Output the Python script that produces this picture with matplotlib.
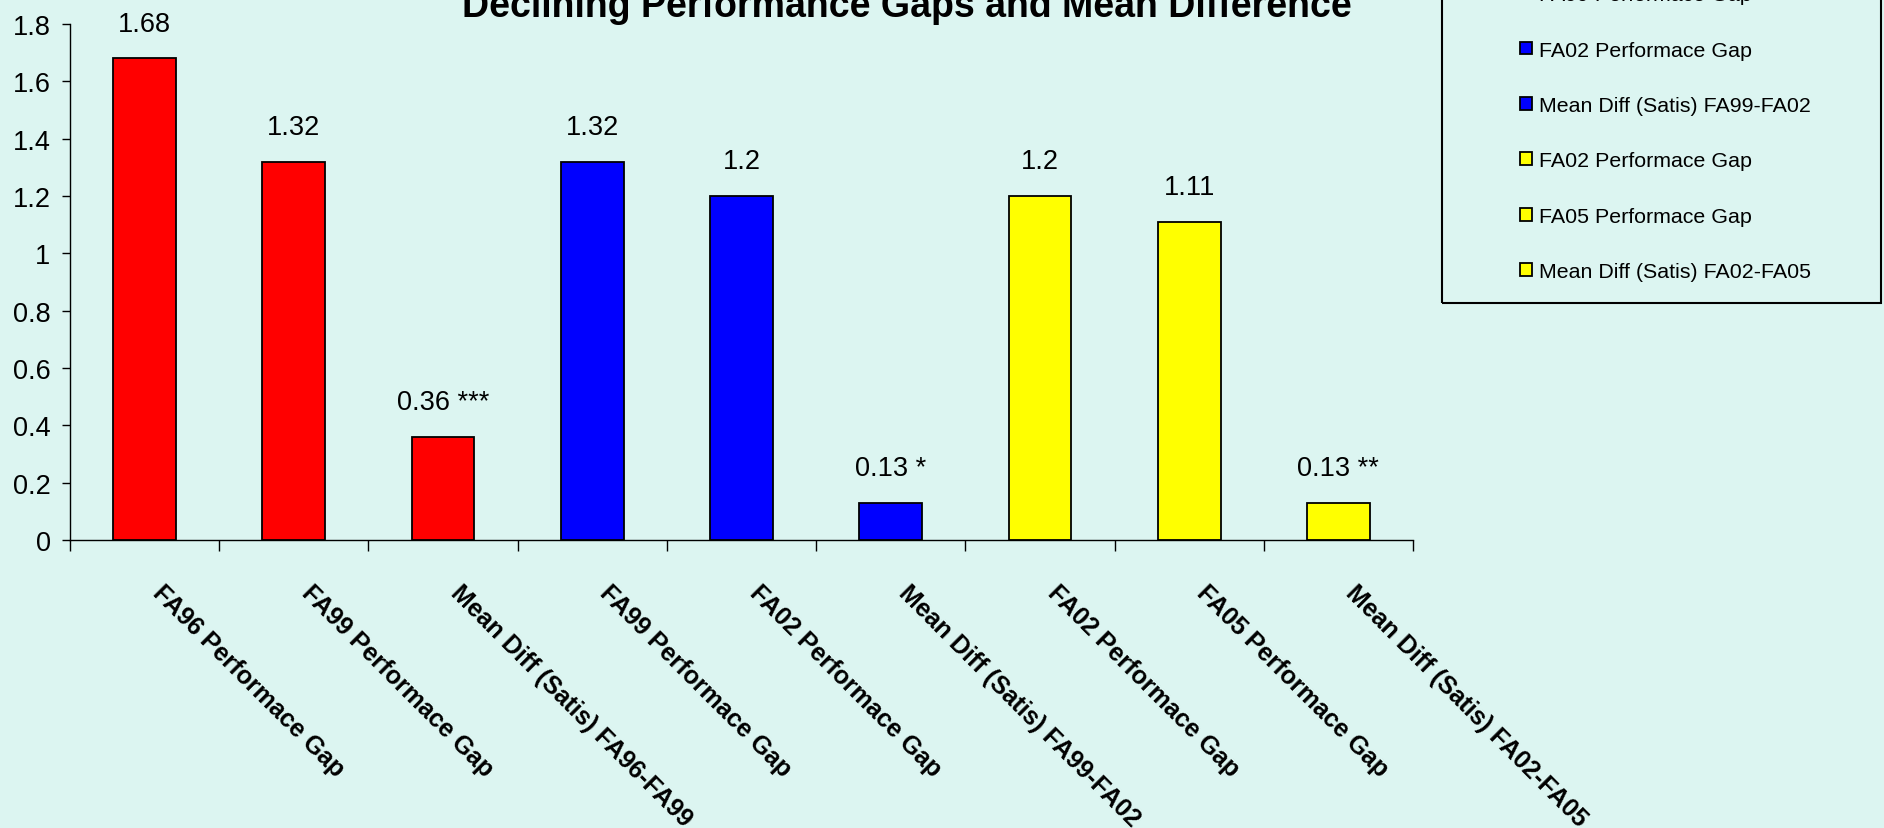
import matplotlib
matplotlib.use("Agg")
import matplotlib.pyplot as plt
from matplotlib.patches import Rectangle
from matplotlib.transforms import ScaledTranslation

categories = ["FA96 Performace Gap", "FA99 Performace Gap", "Mean Diff (Satis) FA96-FA99",
              "FA99 Performace Gap", "FA02 Performace Gap", "Mean Diff (Satis) FA99-FA02",
              "FA02 Performace Gap", "FA05 Performace Gap", "Mean Diff (Satis) FA02-FA05"]
values = [1.68, 1.32, 0.36, 1.32, 1.2, 0.13, 1.2, 1.11, 0.13]
stars = ["", "", "***", "", "", "*", "", "", "**"]
colors = ["#FF0000", "#FF0000", "#FF0000", "#0000FF", "#0000FF", "#0000FF",
          "#FFFF00", "#FFFF00", "#FFFF00"]
yticks = [0, 0.2, 0.4, 0.6, 0.8, 1, 1.2, 1.4, 1.6, 1.8]
ytick_labels = ["0", "0.2", "0.4", "0.6", "0.8", "1", "1.2", "1.4", "1.6", "1.8"]
title = "Declining Performance Gaps and Mean Difference"

bg = "#DCF5F1"
plt.rcParams['font.family'] = ['Liberation Sans', 'DejaVu Sans']

W, H = 1884, 829
fig = plt.figure(figsize=(W / 100, H / 100), dpi=100, facecolor=bg)
ax = fig.add_axes([70 / W, 1 - 541 / H, (1413 - 70) / W, (541 - 25) / H])
ax.set_facecolor(bg)

bars = []
for i, (v, c, lab) in enumerate(zip(values, colors, categories)):
    b = ax.bar(i, v, width=0.42, color=c, edgecolor="black", linewidth=1.3, label=lab, zorder=3)
    bars.append(b)

for i, (v, s) in enumerate(zip(values, stars)):
    txt = f"{v:g}" + (f" {s}" if s else "")
    ax.annotate(txt, (i, v), xytext=(0, 20), textcoords="offset points",
                ha="center", va="baseline", fontsize=19.5)

ax.set_xlim(-0.5, len(values) - 0.5)
ax.set_ylim(0, 1.8)
ax.set_yticks(yticks)
ax.set_yticklabels(ytick_labels, fontsize=19.5)
ax.tick_params(axis="y", length=6, width=1, pad=8, color="black")

ax.set_xticks(range(len(categories)))
ax.set_xticklabels(categories, rotation=-45, ha="left", va="top",
                   rotation_mode="anchor", fontsize=18, fontweight="bold")
ax.tick_params(axis="x", which="major", length=0, pad=29)
ax.set_xticks([k - 0.5 for k in range(len(categories) + 1)], minor=True)
ax.tick_params(axis="x", which="minor", length=8, width=1, color="black")
offset = ScaledTranslation(20 / 100, 0, fig.dpi_scale_trans)
for lbl in ax.get_xticklabels():
    lbl.set_transform(lbl.get_transform() + offset)

for side in ["top", "right"]:
    ax.spines[side].set_visible(False)
for side in ["left", "bottom"]:
    ax.spines[side].set_linewidth(1)
    ax.spines[side].set_color("black")

fig.text(907 / W, 1 - 17 / H, title, ha="center", va="baseline",
         fontsize=27, fontweight="bold")

# legend frame
fig.patches.append(Rectangle((1442 / W, 1 - 304 / H), (1881 - 1442) / W, 1.0,
                             transform=fig.transFigure, facecolor="none",
                             edgecolor="black", linewidth=1.5, zorder=5))
leg = ax.legend(handles=[b[0] for b in bars], labels=categories,
                loc="lower left", bbox_to_anchor=(1520 / W, 1 - 282 / H),
                bbox_transform=fig.transFigure, frameon=False, fontsize=15.4,
                handlelength=0.55, handleheight=0.55, handletextpad=0.33,
                labelspacing=1.70, borderpad=0, borderaxespad=0)

fig.savefig("out.png", dpi=100, facecolor=bg)
